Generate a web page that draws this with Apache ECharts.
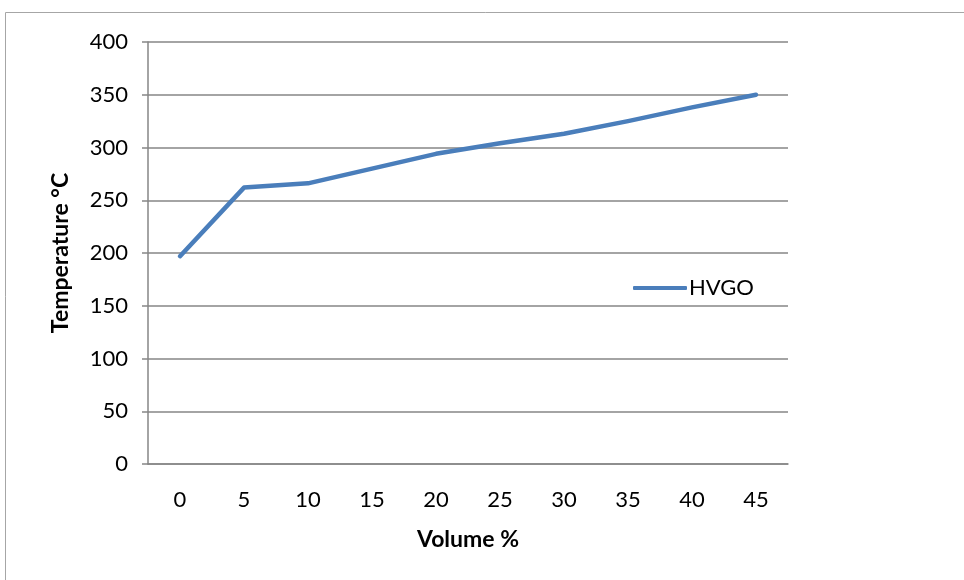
<!DOCTYPE html>
<html>
<head>
<meta charset="utf-8">
<script src="https://cdn.jsdelivr.net/npm/echarts@6/dist/echarts.min.js"></script>
<style>
  html, body { margin: 0; padding: 0; background: #fff; }
  #main { width: 964px; height: 580px; }
</style>
</head>
<body>
<div id="main"></div>
<script>
var volume = ['0', '5', '10', '15', '20', '25', '30', '35', '40', '45'];
var hvgo = [197, 262, 266, 280, 294, 304, 313, 325, 338, 350];
var yTicks = { min: 0, max: 400, interval: 50 };

var chart = echarts.init(document.getElementById('main'));
var font = 'Lato, "Open Sans", sans-serif';

var option = {
    animation: false,
    textStyle: { fontFamily: font },
    graphic: [
        {
            type: 'rect',
            shape: { x: 5.5, y: 12.5, width: 1200, height: 1200 },
            style: { fill: 'none', stroke: '#a6a6a6', lineWidth: 1 },
            silent: true
        }
    ],
    grid: {
        left: 148,
        right: 176,
        top: 42,
        bottom: 116
    },
    legend: {
        data: ['HVGO'],
        left: 628,
        top: 272,
        itemWidth: 54,
        itemHeight: 4,
        itemGap: 0,
        icon: 'roundRect',
        textStyle: { fontFamily: font, fontSize: 22, color: '#000', padding: [0, 0, 0, -3] }
    },
    xAxis: {
        type: 'category',
        data: volume,
        boundaryGap: true,
        name: 'Volume %',
        nameLocation: 'middle',
        nameGap: 64,
        nameTextStyle: { fontFamily: font, fontSize: 23, fontWeight: 'bold', color: '#000' },
        axisLine: { lineStyle: { color: '#868686', width: 1.5 } },
        axisTick: { show: false },
        axisLabel: { color: '#000', fontSize: 22, margin: 25 },
        splitLine: { show: false }
    },
    yAxis: {
        type: 'value',
        min: yTicks.min,
        max: yTicks.max,
        interval: yTicks.interval,
        name: 'Temperature °C',
        nameLocation: 'middle',
        nameGap: 76,
        nameRotate: 90,
        nameTextStyle: { fontFamily: font, fontSize: 23, fontWeight: 'bold', color: '#000' },
        axisLine: { show: true, lineStyle: { color: '#868686', width: 1.5 } },
        axisTick: { show: true, length: 6, lineStyle: { color: '#868686', width: 1.5 } },
        axisLabel: { color: '#000', fontSize: 22, margin: 20 },
        splitLine: { lineStyle: { color: '#868686', width: 1.5 } }
    },
    series: [
        {
            name: 'HVGO',
            type: 'line',
            data: hvgo,
            symbol: 'none',
            lineStyle: { color: '#4a7ebb', width: 4.5, cap: 'round', join: 'round' },
            itemStyle: { color: '#4a7ebb' }
        }
    ]
};

chart.setOption(option);
</script>
</body>
</html>
